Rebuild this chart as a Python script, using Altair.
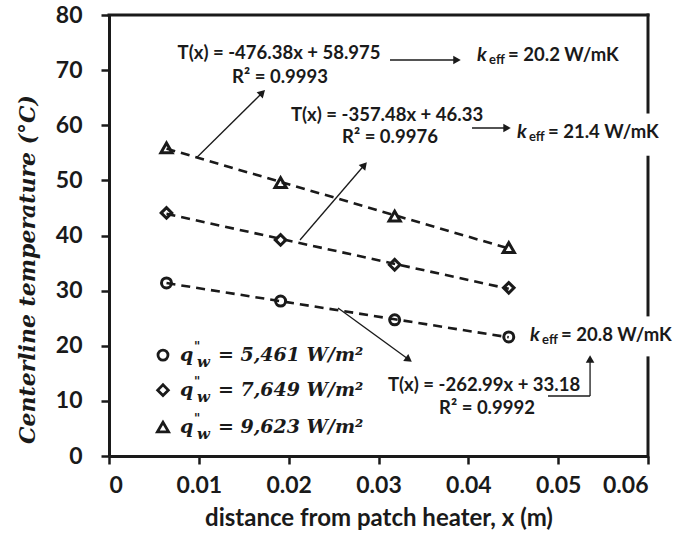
import altair as alt
import pandas as pd

# ---- data ----
x_pos = [0.0064, 0.0191, 0.0318, 0.0445]
t_circle = [31.4, 28.1, 24.7, 21.6]
t_diamond = [44.1, 39.2, 34.7, 30.5]
t_triangle = [55.9, 49.6, 43.5, 37.8]
series_names = ["q5461", "q7649", "q9623"]
series_shapes = ["circle", "diamond", "triangle-up"]
series_sizes = [100, 125, 105]

legend_values = ["= 5,461 W/m²", "= 7,649 W/m²", "= 9,623 W/m²"]
legend_y = [18.3, 11.95, 5.25]
legend_sym_x = 0.00601
legend_txt_x = 0.0079

eq_texts = ["T(x) = -476.38x + 58.975", "R² = 0.9993",
            "T(x) = -357.48x + 46.33", "R² = 0.9976",
            "T(x) = -262.99x + 33.18", "R² = 0.9992"]
eq_x = [0.01893, 0.01904, 0.03095, 0.03128, 0.04175, 0.04208]
eq_y = [73.1, 68.75, 61.86, 57.87, 12.88, 8.71]

k_values = ["= 20.2 W/mK", "= 21.4 W/mK", "= 20.8 W/mK"]
k_x = [0.04097, 0.04542, 0.04687]
k_y = [72.74, 58.78, 21.95]

# arrow shafts (x, y, x2, y2)
arr_x = [0.0098, 0.03128, 0.02126, 0.04041, 0.02549, 0.04887, 0.05355]
arr_y = [54.2, 71.84, 39.18, 59.5, 26.85, 10.88, 10.88]
arr_x2 = [0.01707, 0.03874, 0.02843, 0.04431, 0.03337, 0.05355, 0.05355]
arr_y2 = [65.9, 71.84, 52.79, 59.5, 17.49, 10.88, 17.6]
# arrow heads
head_x = [0.01707, 0.03874, 0.02843, 0.04431, 0.03337, 0.05355]
head_y = [65.9, 71.84, 52.79, 59.5, 17.49, 17.6]
head_angle = [45, 90, 41, 90, 126, 0]

# frame (top + right with gaps behind labels)
frame_x = [0.0, 0.06, 0.06, 0.06]
frame_x2 = [0.06, 0.06, 0.06, 0.06]
frame_y = [80, 80, 54.2, 17.8]
frame_y2 = [80, 62.4, 25.6, 0]

INK = "#1a1a1a"

rows = []
for name, vals in zip(series_names, [t_circle, t_diamond, t_triangle]):
    for xv, tv in zip(x_pos, vals):
        rows.append({"x": xv, "t": tv, "series": name})
df = pd.DataFrame(rows)

xscale = alt.Scale(domain=[0, 0.06], nice=False, zero=False)
yscale = alt.Scale(domain=[0, 80], nice=False)

X = alt.X("x:Q", scale=xscale, axis=alt.Axis(
    values=[0, 0.01, 0.02, 0.03, 0.04, 0.05, 0.06], format=".2~f",
    title="distance from patch heater, x (m)",
    labelFont="Lato", labelFontSize=23, labelFontWeight="bold", labelPadding=10,
    titleFont="Lato", titleFontSize=24, titleFontWeight="bold", titlePadding=9,
    tickSize=8, tickWidth=2.5, domainWidth=3, grid=False))
Y = alt.Y("t:Q", scale=yscale, axis=alt.Axis(
    values=list(range(0, 81, 10)),
    title="Centerline temperature (°C)",
    labelFont="Lato", labelFontSize=23, labelFontWeight="bold", labelPadding=19,
    titleFont="DejaVu Serif", titleFontSize=22, titleFontWeight="bold",
    titleFontStyle="italic", titleAngle=270, titleX=-82, titleY=254,
    titleAlign="center", titleBaseline="middle",
    tickSize=8, tickWidth=2.5, domainWidth=3, grid=False))

shape_enc = alt.Shape("series:N", scale=alt.Scale(domain=series_names, range=series_shapes), legend=None)
size_enc = alt.Size("series:N", scale=alt.Scale(domain=series_names, range=series_sizes), legend=None)

base = alt.Chart(df)
trend = base.transform_regression("x", "t", groupby=["series"]).mark_line(
    strokeDash=[9, 6], strokeWidth=2.6, color=INK).encode(x=X, y=Y, detail="series:N")
points = base.mark_point(filled=False, strokeWidth=3, color=INK, opacity=1).encode(
    x=X, y=Y, shape=shape_enc, size=size_enc)

frame = alt.Chart(pd.DataFrame({"x": frame_x, "x2": frame_x2, "t": frame_y, "t2": frame_y2})).mark_rule(
    strokeWidth=3, color=INK, strokeCap="square").encode(x=X, x2="x2", y=Y, y2="t2")

arrows = alt.Chart(pd.DataFrame({"x": arr_x, "x2": arr_x2, "t": arr_y, "t2": arr_y2})).mark_rule(
    strokeWidth=1.3, color=INK).encode(x=X, x2="x2", y=Y, y2="t2")
heads = alt.Chart(pd.DataFrame({"x": head_x, "t": head_y, "a": head_angle})).mark_point(
    shape="triangle-up", filled=True, size=75, color=INK, opacity=1).encode(
    x=X, y=Y, angle=alt.Angle("a:Q", scale=None))

eq = alt.Chart(pd.DataFrame({"x": eq_x, "t": eq_y, "label": eq_texts})).mark_text(
    font="Lato", fontSize=18.5, fontWeight="bold", align="center", baseline="middle", color=INK).encode(
    x=X, y=Y, text="label:N")

kdf = pd.DataFrame({"x": k_x, "t": k_y, "label": k_values})
k_k = alt.Chart(kdf).mark_text(font="Lato", fontSize=19.5, fontWeight="bold", fontStyle="italic",
                               align="left", baseline="middle", color=INK, text="k").encode(x=X, y=Y)
k_eff = alt.Chart(kdf).mark_text(font="Lato", fontSize=13, fontWeight="bold", align="left",
                                 baseline="middle", color=INK, dx=12, dy=5, text="eff").encode(x=X, y=Y)
k_val = alt.Chart(kdf).mark_text(font="Lato", fontSize=18.5, fontWeight="bold", align="left",
                                 baseline="middle", color=INK, dx=31).encode(x=X, y=Y, text="label:N")

ldf_sym = pd.DataFrame({"x": [legend_sym_x] * 3, "t": legend_y, "series": series_names})
leg_sym = alt.Chart(ldf_sym).mark_point(filled=False, strokeWidth=2.8, color=INK, opacity=1).encode(
    x=X, y=Y, shape=shape_enc,
    size=alt.Size("series:N", scale=alt.Scale(domain=series_names, range=[80, 100, 85]), legend=None))
ldf = pd.DataFrame({"x": [legend_txt_x] * 3, "t": legend_y, "label": legend_values})
sfont = dict(font="DejaVu Serif", fontWeight="bold", fontStyle="italic", align="left",
             baseline="middle", color=INK)
leg_q = alt.Chart(ldf).mark_text(fontSize=19, text="q", **sfont).encode(x=X, y=Y)
leg_p = alt.Chart(ldf).mark_text(fontSize=12, text='"', dx=14, dy=-8, **sfont).encode(x=X, y=Y)
leg_w = alt.Chart(ldf).mark_text(fontSize=15, text="w", dx=17, dy=7, **sfont).encode(x=X, y=Y)
leg_v = alt.Chart(ldf).mark_text(fontSize=19, dx=38, **sfont).encode(x=X, y=Y, text="label:N")

chart = alt.layer(
    frame, trend, points, arrows, heads, eq, k_k, k_eff, k_val,
    leg_sym, leg_q, leg_p, leg_w, leg_v
).properties(
    width=539, height=441,
    autosize=alt.AutoSizeParams(type="none"),
    padding={"left": 109, "top": 15, "right": 27, "bottom": 84},
    background="white",
).configure_view(stroke=None).configure_axis(
    domainColor=INK, tickColor=INK, labelColor=INK, titleColor=INK)

chart.save("out.html", embed_options={"renderer": "svg", "actions": False})
